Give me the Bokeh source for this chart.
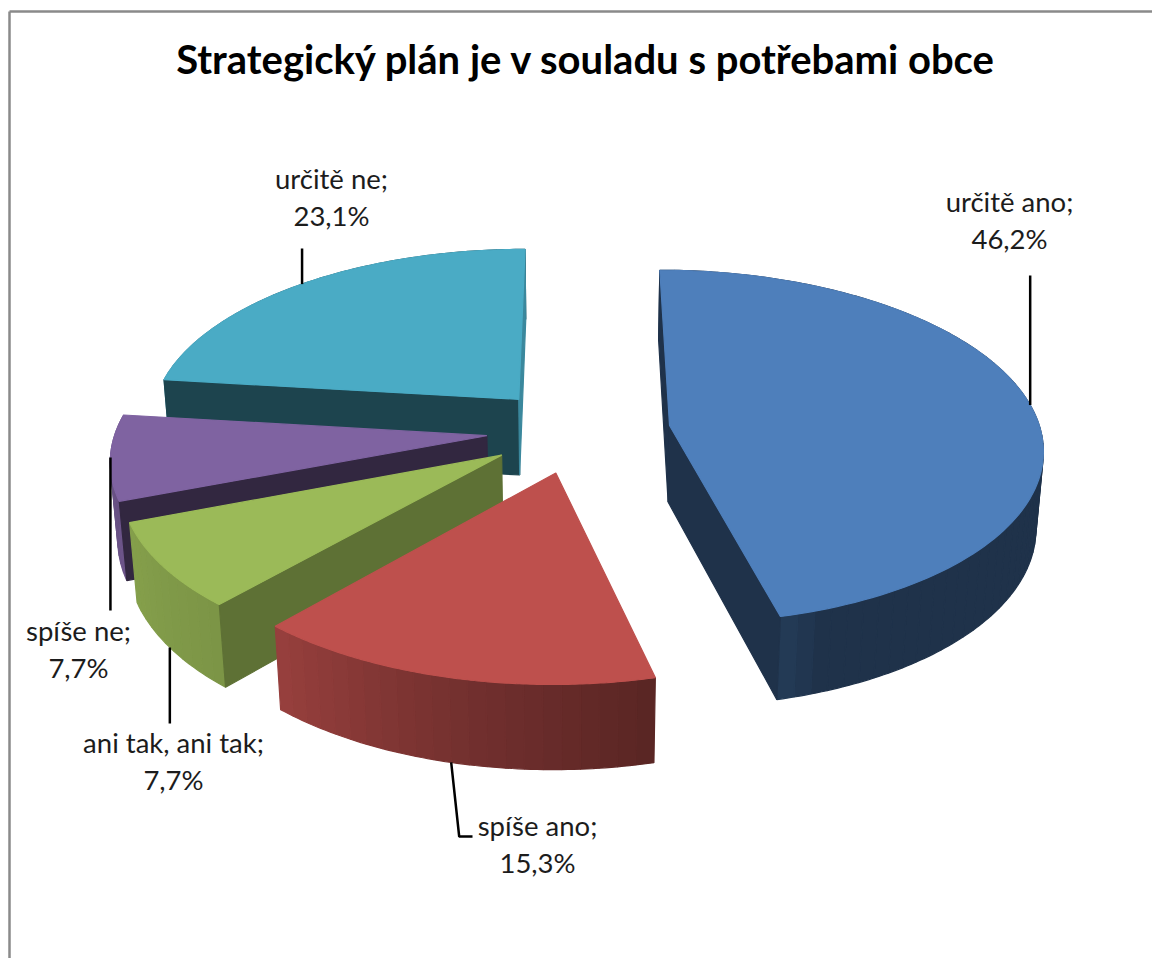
import numpy as np
from bokeh.plotting import figure
from bokeh.models import ColumnDataSource, Range1d
from bokeh.core.properties import value
from bokeh.embed import file_html
from bokeh.resources import INLINE

# ---- data
title_text = "Strategický plán je v souladu s potřebami obce"
categories = ["určitě ano", "spíše ano", "ani tak, ani tak", "spíše ne", "určitě ne"]
percents = [46.2, 15.3, 7.7, 7.7, 23.1]

# ---- styles
top_colors = ["#4E7FBB", "#BE504D", "#9BBA58", "#7F63A1", "#4AABC5"]
face_shade = [(0.40, 0.40), (0.40, 0.40), (0.61, 0.61), (0.40, 0.40), (0.40, 0.80)]
shade_angles = [0, 90, 160, 166, 194, 221, 249, 277, 360]
shade_levels = [0.4, 0.40, 0.40, 0.47, 0.62, 0.80, 0.86, 0.80, 0.4]
paint_order = [4, 0, 3, 2, 1]

# ---- layout of the projected pie (picture pixels)
W, H = 1152, 958
CX, CY, A, B = 578.0, 430.0, 371.0, 175.0
K, M, C = 0.12, 0.016, 78.0
EXPLODE = 0.243
EXPLODE_X = 92.0 / 371.0
lab_x = [1009, 537, 173, 78, 331]
lab_y = [201, 825, 742, 630, 178]
LINE_GAP = 36.5
leader_from_bottom = [False, True, True, False, False]
leader_end_y = [275, 836, 723, 610, 248]
leader_hook_x = [None, 472, None, None, None]


def proj(X, Y, bottom=False):
    X, Y = np.asarray(X, float), np.asarray(Y, float)
    w = 1 + K * Y + (M if bottom else 0)
    return CX + A * X / w, CY - B * Y / w + (C / w if bottom else 0)


def tint(col, f):
    r, g, b = [int(col[i:i + 2], 16) for i in (1, 3, 5)]
    return "#%02x%02x%02x" % (int(r * f), int(g * f), int(b * f))


total = sum(percents)
edges = np.concatenate([[0], np.cumsum(percents)]) / total * 360
xs, ys, cols = [], [], []
lead_xs, lead_ys = [], []


def add(x, y, c):
    xs.append(list(map(float, x)))
    ys.append(list(map(float, y)))
    cols.append(c)


for i in paint_order:
    a0, a1 = edges[i], edges[i + 1]
    mid = np.radians((a0 + a1) / 2)
    ox, oy = EXPLODE_X * np.sin(mid), EXPLODE * np.cos(mid)
    base = top_colors[i]
    # rim in narrow strips with a shade from the angle
    n = max(2, int((a1 - a0) / 2.5))
    ang = np.linspace(a0, a1, n + 1)
    for s in range(n):
        r = np.radians(np.linspace(ang[s], ang[s + 1], 4))
        X, Y = ox + np.sin(r), oy + np.cos(r)
        tx, ty = proj(X, Y)
        bx, by = proj(X, Y, True)
        f = np.interp((ang[s] + ang[s + 1]) / 2, shade_angles, shade_levels)
        add([*tx, *bx[::-1]], [*ty, *by[::-1]], tint(base, f))
    # radial faces, only those turned to the viewer
    ax, ay = proj(ox, oy)
    abx, aby = proj(ox, oy, True)
    for a, sign, shade in ((a0, 1, face_shade[i][0]), (a1, -1, face_shade[i][1])):
        r = np.radians(a)
        X = np.array([ox, ox + np.sin(r)])
        Y = np.array([oy, oy + np.cos(r)])
        tx, ty = proj(X, Y)
        bx, by = proj(X, Y, True)
        ex, ey = sign * (tx[1] - tx[0]), sign * (ty[1] - ty[0])
        if (abx - ax) * ey - (aby - ay) * ex > 0:
            add([*tx, *bx[::-1]], [*ty, *by[::-1]], tint(base, shade))
    # top surface
    r = np.radians(np.linspace(a0, a1, 120))
    X = np.concatenate([[ox], ox + np.sin(r)])
    Y = np.concatenate([[oy], oy + np.cos(r)])
    tx, ty = proj(X, Y)
    add(tx, ty, base)

for i in range(len(percents)):
    mid = np.radians((edges[i] + edges[i + 1]) / 2)
    X = EXPLODE_X * np.sin(mid) + np.sin(mid)
    Y = EXPLODE * np.cos(mid) + np.cos(mid)
    sx, sy = proj(X, Y, leader_from_bottom[i])
    lx, ly = [float(sx)], [float(sy)]
    if leader_hook_x[i] is None:
        lx.append(float(sx)); ly.append(leader_end_y[i])
    else:
        lx += [float(sx) + 8, leader_hook_x[i]]; ly += [leader_end_y[i], leader_end_y[i]]
    lead_xs.append(lx); lead_ys.append(ly)

p = figure(width=W, height=H, x_range=Range1d(0, W), y_range=Range1d(H, 0),
           toolbar_location=None, output_backend="svg", min_border=0,
           background_fill_color="white", border_fill_color="white", outline_line_color=None)
p.axis.visible = False
p.grid.visible = False

# chart frame (top and left edges of the chart area)
p.multi_line(xs=[[9, 9], [9, W]], ys=[[H, 11], [11, 11]], line_color="#8a8a8a", line_width=2.5)

p.patches(xs="xs", ys="ys", fill_color="c", line_color="c", line_width=1.2,
          source=ColumnDataSource(dict(xs=xs, ys=ys, c=cols)))

p.multi_line(xs=lead_xs, ys=lead_ys, line_color="#000000", line_width=2.5)

p.text(x=[586], y=[58], text=[title_text], text_font=value("Lato"), text_font_style="bold",
       text_font_size="40px", text_align="center", text_baseline="middle", text_color="#000000")

tx, ty, tt = [], [], []
for i, cat in enumerate(categories):
    tx += [lab_x[i], lab_x[i]]
    ty += [lab_y[i], lab_y[i] + LINE_GAP]
    tt += [cat + ";", ("%.1f%%" % percents[i]).replace(".", ",")]
p.text(x=tx, y=ty, text=tt, text_font=value("Lato"), text_font_size="27.5px",
       text_align="center", text_baseline="middle", text_color="#1c1c1c")

open("out.html", "w").write(file_html(p, INLINE))
